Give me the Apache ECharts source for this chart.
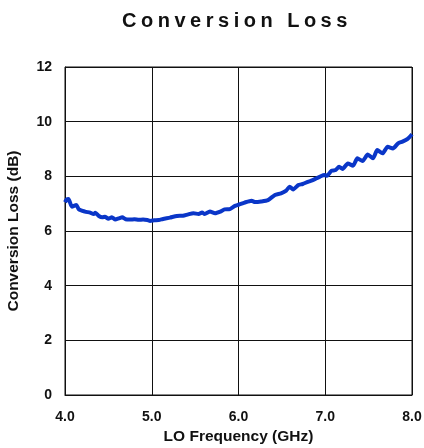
<!DOCTYPE html>
<html>
<head>
<meta charset="utf-8">
<script src="https://cdn.jsdelivr.net/npm/echarts@6/dist/echarts.min.js"></script>
<style>
  html, body { margin: 0; padding: 0; background: #fff; }
  #wrap { position: relative; width: 424px; height: 448px; }
  #chart { position: absolute; left: 0; top: 0; width: 424px; height: 448px; }
  #title { position: absolute; left: 0; width: 474px; top: 9px; text-align: center;
    font-family: "Liberation Sans", Arial, sans-serif; font-weight: bold; font-size: 20px;
    letter-spacing: 4.5px; color: #111; }
</style>
</head>
<body>
<div id="wrap">
  <div id="chart"></div>
  <div id="title">Conversion Loss</div>
</div>
<script>
const titleText = "Conversion Loss";
const xAxisName = "LO Frequency (GHz)";
const yAxisName = "Conversion Loss (dB)";
const freqGHz = [4.00,4.02,4.04,4.08,4.13,4.16,4.23,4.29,4.33,4.35,4.39,4.43,4.46,4.50,4.54,4.58,4.62,4.66,4.70,4.75,4.80,4.85,4.90,4.95,4.98,5.03,5.08,5.13,5.21,5.29,5.36,5.42,5.48,5.54,5.58,5.61,5.67,5.73,5.79,5.84,5.90,5.96,6.00,6.07,6.15,6.19,6.26,6.34,6.42,6.49,6.55,6.59,6.63,6.69,6.74,6.80,6.84,6.90,6.94,6.99,7.02,7.07,7.12,7.16,7.20,7.26,7.32,7.37,7.43,7.49,7.55,7.60,7.66,7.72,7.78,7.84,7.89,7.95,8.00];
const lossDB = [7.05,7.15,7.17,6.89,6.95,6.79,6.71,6.67,6.62,6.67,6.55,6.50,6.52,6.45,6.50,6.42,6.46,6.50,6.43,6.42,6.43,6.41,6.42,6.40,6.37,6.39,6.40,6.44,6.49,6.55,6.56,6.61,6.65,6.62,6.68,6.62,6.71,6.65,6.71,6.79,6.80,6.92,6.96,7.04,7.11,7.06,7.08,7.13,7.32,7.38,7.48,7.62,7.52,7.68,7.72,7.80,7.84,7.93,7.99,8.05,8.02,8.20,8.23,8.35,8.27,8.47,8.39,8.66,8.56,8.80,8.66,8.96,8.84,9.08,9.02,9.21,9.27,9.37,9.54];
const xTicks = { min: 4.0, max: 8.0, interval: 1.0 };
const yTicks = { min: 0, max: 12, interval: 2 };

document.getElementById('title').textContent = titleText;
const points = freqGHz.map((f, i) => [f, lossDB[i]]);
const font = '"Liberation Sans", Arial, sans-serif';
const chart = echarts.init(document.getElementById('chart'), null, { renderer: 'canvas' });
chart.setOption({
  animation: false,
  backgroundColor: '#fff',
  grid: { left: 65, right: 12, top: 67, bottom: 53, show: true, borderColor: '#111', borderWidth: 1,
    containLabel: false, outerBoundsMode: 'none' },
  xAxis: {
    type: 'value', min: xTicks.min, max: xTicks.max, interval: xTicks.interval,
    name: xAxisName, nameLocation: 'middle', nameGap: 34,
    nameTextStyle: { fontFamily: font, fontWeight: 'bold', fontSize: 15.5, color: '#111' },
    axisLine: { show: true, lineStyle: { color: '#111', width: 1 } },
    axisTick: { show: false },
    axisLabel: { fontFamily: font, fontWeight: 'bold', fontSize: 14, color: '#111', margin: 15,
      formatter: v => v.toFixed(1) },
    splitLine: { show: true, lineStyle: { color: '#111', width: 1 } }
  },
  yAxis: {
    type: 'value', min: yTicks.min, max: yTicks.max, interval: yTicks.interval,
    name: yAxisName, nameLocation: 'middle', nameGap: 43, nameRotate: 90,
    nameTextStyle: { fontFamily: font, fontWeight: 'bold', fontSize: 15.5, color: '#111' },
    axisLine: { show: true, lineStyle: { color: '#111', width: 1 } },
    axisTick: { show: false },
    axisLabel: { fontFamily: font, fontWeight: 'bold', fontSize: 14, color: '#111', margin: 13 },
    splitLine: { show: true, lineStyle: { color: '#111', width: 1 } }
  },
  series: [{
    type: 'line', data: points, showSymbol: false, smooth: 0.2,
    lineStyle: { color: '#0a36c8', width: 4 }
  }]
});
</script>
</body>
</html>
